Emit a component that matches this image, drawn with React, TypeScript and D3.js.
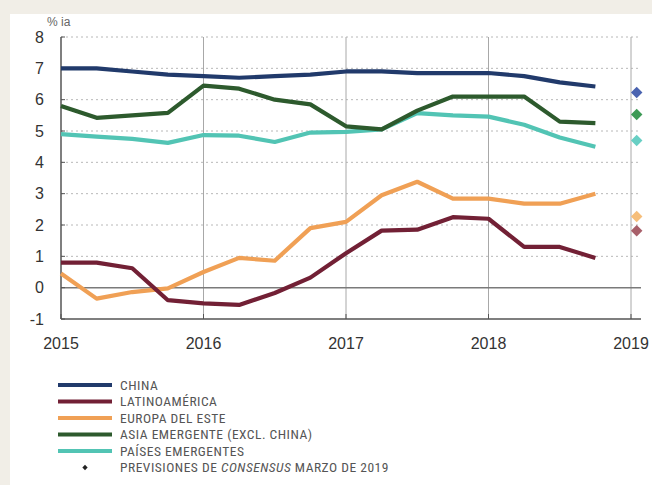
import React from "react";
import * as d3 from "d3";

const quarters = [2015, 2015.25, 2015.5, 2015.75, 2016, 2016.25, 2016.5, 2016.75, 2017, 2017.25, 2017.5, 2017.75, 2018, 2018.25, 2018.5, 2018.75];
const china = [7.0, 7.0, 6.9, 6.8, 6.75, 6.7, 6.75, 6.8, 6.9, 6.9, 6.85, 6.85, 6.85, 6.75, 6.55, 6.42];
const latam = [0.8, 0.8, 0.62, -0.4, -0.5, -0.55, -0.17, 0.32, 1.1, 1.82, 1.85, 2.25, 2.2, 1.3, 1.3, 0.95];
const europa = [0.45, -0.35, -0.14, -0.02, 0.5, 0.95, 0.86, 1.9, 2.1, 2.95, 3.38, 2.84, 2.84, 2.68, 2.68, 3.0];
const asia = [5.8, 5.42, 5.5, 5.58, 6.45, 6.35, 6.0, 5.85, 5.15, 5.05, 5.65, 6.1, 6.1, 6.1, 5.3, 5.25];
const paises = [4.9, 4.82, 4.75, 4.62, 4.87, 4.85, 4.65, 4.95, 4.97, 5.05, 5.57, 5.5, 5.46, 5.2, 4.79, 4.5];
const forecastX = 2019.04;
const forecasts = [6.23, 1.82, 2.27, 5.53, 4.7];

const seriesNames = ["CHINA", "LATINOAMÉRICA", "EUROPA DEL ESTE", "ASIA EMERGENTE (EXCL. CHINA)", "PAÍSES EMERGENTES"];
const seriesData = [china, latam, europa, asia, paises];
const lineColors = ["#213a6b", "#722035", "#f0a055", "#2d5a2d", "#52c4b4"];
const diamondColors = ["#4a63b0", "#a8606a", "#f6be7a", "#3d9a55", "#68cfc4"];
const drawOrder = [4, 3, 2, 1, 0];

const yTicks = [-1, 0, 1, 2, 3, 4, 5, 6, 7, 8];
const xTicks = [2015, 2016, 2017, 2018, 2019];

export default function App() {
  const x = d3.scaleLinear().domain([2015, 2019]).range([61, 631]);
  const y = d3.scaleLinear().domain([-1, 8]).range([319, 37]);
  const right = 641;
  const line = d3
    .line<[number, number]>()
    .x((d) => x(d[0]))
    .y((d) => y(d[1]))
    .curve(d3.curveLinear);
  const square = d3.symbol().type(d3.symbolSquare).size(66);
  const smallSquare = d3.symbol().type(d3.symbolSquare).size(14);
  const legendFont = "'Liberation Sans Narrow', 'Arial Narrow', 'Roboto Condensed', sans-serif";

  return (
    <svg
      width={652}
      height={485}
      style={{ position: "absolute", left: 0, top: 0, display: "block" }}
      fontFamily="'Liberation Sans', Arial, sans-serif"
    >
      <rect x={0} y={0} width={652} height={485} fill="#f1eee7" />
      <rect x={10} y={14} width={642} height={471} fill="#ffffff" />

      {/* horizontal dotted gridlines */}
      {yTicks
        .filter((t) => t > 0)
        .map((t) => (
          <line key={"g" + t} x1={x(2015)} x2={right} y1={y(t)} y2={y(t)} stroke="#b8b8b8" strokeWidth={1} strokeDasharray="2,3" />
        ))}
      {/* vertical gridlines */}
      {xTicks
        .filter((t) => t > 2015)
        .map((t) => (
          <line key={"v" + t} x1={x(t)} x2={x(t)} y1={y(8)} y2={y(-1)} stroke="#a8a8a8" strokeWidth={1} />
        ))}
      {/* zero line */}
      <line x1={x(2015)} x2={right} y1={y(0)} y2={y(0)} stroke="#7a7a7a" strokeWidth={1.5} />
      {/* axes */}
      <line x1={x(2015)} x2={x(2015)} y1={y(8)} y2={y(-1)} stroke="#555" strokeWidth={1.5} />
      <line x1={x(2015)} x2={right} y1={y(-1)} y2={y(-1)} stroke="#555" strokeWidth={1.5} />
      {yTicks.map((t) => (
        <line key={"yt" + t} x1={x(2015)} x2={x(2015) + 4} y1={y(t)} y2={y(t)} stroke="#555" strokeWidth={1} />
      ))}
      {xTicks.map((t) => (
        <line key={"xt" + t} x1={x(t)} x2={x(t)} y1={y(-1)} y2={y(-1) - 5} stroke="#555" strokeWidth={1} />
      ))}

      {/* y labels */}
      {yTicks.map((t) => (
        <text key={"yl" + t} x={44} y={y(t)} dy="0.36em" textAnchor="end" fontSize={16} fill="#333">
          {t}
        </text>
      ))}
      <text x={47} y={26} fontSize={12} fill="#666">
        % ia
      </text>
      {/* x labels */}
      {xTicks.map((t) => (
        <text key={"xl" + t} x={x(t)} y={349} textAnchor="middle" fontSize={16} fill="#333">
          {t}
        </text>
      ))}

      {/* series lines */}
      {drawOrder.map((i) => (
        <path
          key={"s" + i}
          d={line(quarters.map((q, k) => [q, seriesData[i][k]] as [number, number])) || ""}
          fill="none"
          stroke={lineColors[i]}
          strokeWidth={4.2}
          strokeLinejoin="round"
        />
      ))}

      {/* forecasts */}
      {forecasts.map((v, i) => (
        <path key={"f" + i} d={square() || ""} transform={`translate(${x(forecastX)},${y(v)}) rotate(45)`} fill={diamondColors[i]} />
      ))}

      {/* legend */}
      {seriesNames.map((n, i) => (
        <g key={"l" + i} transform={`translate(0, ${385 + i * 16.5})`}>
          <line x1={58} x2={112} y1={0} y2={0} stroke={lineColors[i]} strokeWidth={4} />
          <text x={120} y={0} dy="0.36em" fontSize={13.5} letterSpacing={0.5} fill="#555" fontFamily={legendFont}>
            {n}
          </text>
        </g>
      ))}
      <g transform={`translate(0, ${385 + 5 * 16.5})`}>
        <path d={smallSquare() || ""} transform="translate(85,0) rotate(45)" fill="#222" />
        <text x={120} y={0} dy="0.36em" fontSize={13.5} letterSpacing={0.5} fill="#555" fontFamily={legendFont}>
          PREVISIONES DE <tspan fontStyle="italic">CONSENSUS</tspan> MARZO DE 2019
        </text>
      </g>
    </svg>
  );
}
